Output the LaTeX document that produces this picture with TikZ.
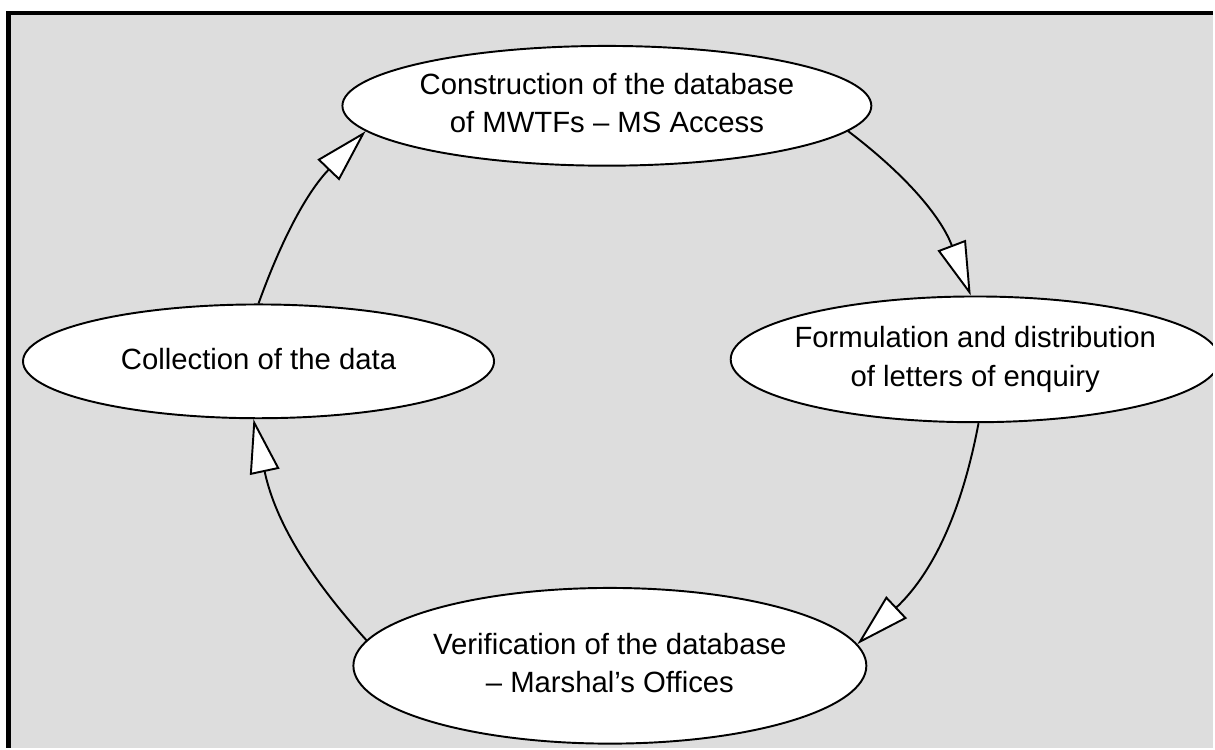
\documentclass[tikz,border=0pt]{standalone}
\usepackage{fontspec}
\setmainfont{Liberation Sans}
\usetikzlibrary{arrows.meta,shapes.geometric}

\definecolor{panelgray}{RGB}{221,221,221}
\newcommand{\steptext}[1]{\makebox[0pt]{\begin{tabular}{@{}c@{}}#1\end{tabular}}}

\tikzset{
  stage/.style={draw,ellipse,fill=white,line width=1.1pt,inner sep=0pt,
    font=\fontsize{16.7}{22}\selectfont},
  stageedge/.style={draw,line width=1.1pt,
    -{Triangle[fill=white,length=1.08cm,width=0.6cm]}}
}

\begin{document}
\begin{tikzpicture}[x=0.02cm,y=-0.02cm]
  % panel
  \fill[white] (0,0) rectangle (1215,749);
  \fill[panelgray] (11,15) rectangle (1215,749);
  \draw[line width=2.56pt] (8.75,749) -- (8.75,13.25) -- (1215,13.25);
  \clip (0,0) rectangle (1215,749);

  % stages
  \node[stage,minimum width=10.6cm,minimum height=2.4cm] (build) at (608,106)
    {\steptext{Construction of the database\\of MWTFs – MS Access}};
  \node[stage,minimum width=9.8cm,minimum height=2.52cm] (letters) at (977,360)
    {\steptext{Formulation and distribution\\of letters of enquiry}};
  \node[stage,minimum width=10.28cm,minimum height=3.12cm] (verify) at (611,667)
    {\steptext{Verification of the database\\– Marshal’s Offices}};
  \node[stage,minimum width=9.44cm,minimum height=2.28cm] (collect) at (259,362)
    {\steptext{Collection of the data}};

  % cycle
  \draw[stageedge] (collect.north) to[bend left=12] (build.186);
  \draw[stageedge] (build.-6) to[bend left=16] (letters.94);
  \draw[stageedge] (letters.-87) to[bend left=18] (verify.5);
  \draw[stageedge] (verify.174) to[bend left=15] (collect.265);
\end{tikzpicture}
\end{document}
